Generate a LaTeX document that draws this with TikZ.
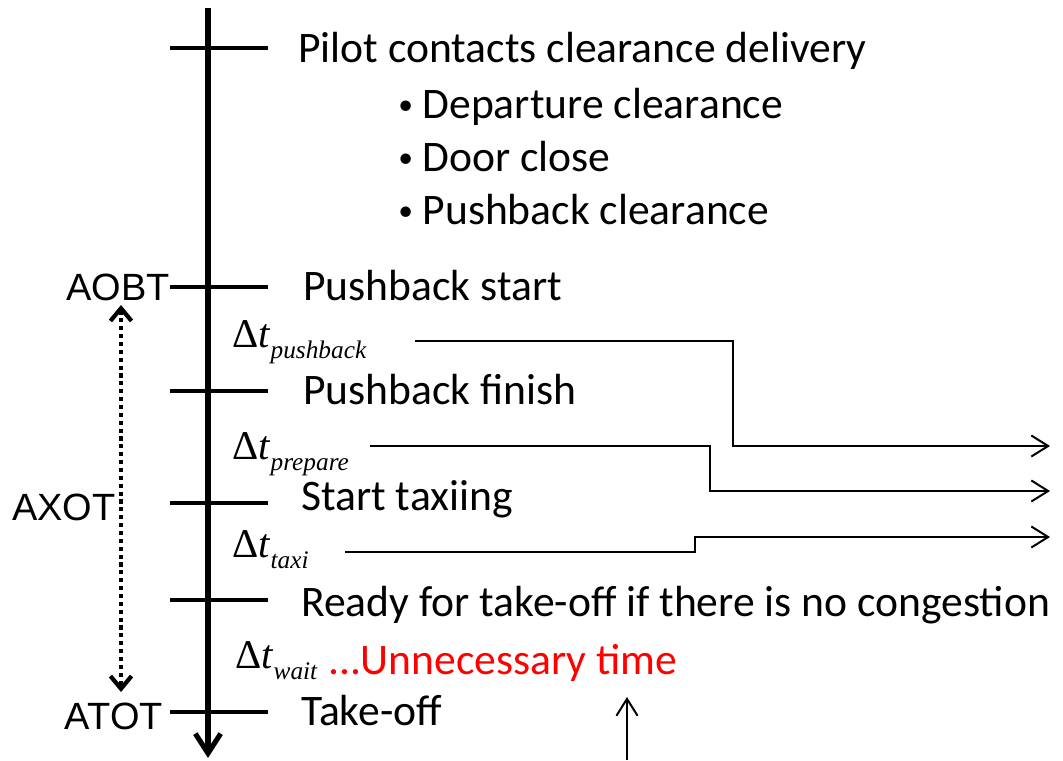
\documentclass[tikz,border=0pt]{standalone}
\usepackage{fontspec}
\setmainfont{Carlito}
\newfontfamily\arialfont{Liberation Sans}
\newfontfamily\timesfont{Liberation Serif}
\usetikzlibrary{arrows.meta}
\tikzset{>={Straight Barb[length=12pt,width=15pt]}}
\tikzset{
  event/.style={anchor=base west, inner sep=0pt, font=\fontsize{31}{36}\selectfont},
  timelabel/.style={inner sep=0pt, font=\arialfont\fontsize{27}{30}\selectfont},
  dlabel/.style={anchor=base west, inner sep=0pt},
  flow/.style={line width=1.4pt}
}
\newcommand{\dtime}[1]{{\timesfont\fontsize{29}{32}\selectfont
  Δ\textit{t}\raisebox{-8pt}{\fontsize{18}{20}\selectfont\itshape #1}}}
\newcommand{\bul}{\raisebox{3pt}{\fontsize{21}{21}\selectfont •}\hspace{0.22em}}

\begin{document}
\begin{tikzpicture}[x=0.025cm, y=-0.025cm]
    \useasboundingbox (0,0) rectangle (1063,761);
    % time axis and ticks
    \draw[line width=3.6pt, -{Straight Barb[length=14pt,width=18pt]}] (208,8) -- (208,758);
    \foreach \y in {48,287,391,503,600,712}
    \draw[line width=2.8pt] (170,\y) -- (268,\y);
    % events
    \node[event] (pilot) at (298,63) {Pilot contacts clearance delivery};
    \node[event] (dep) at (398,119) {\bul Departure clearance};
    \node[event] (door) at (398,172) {\bul Door close};
    \node[event] (pbclr) at (398,225) {\bul Pushback clearance};
    \node[event] (pbstart) at (303,300) {Pushback start};
    \node[event] (pbfin) at (303,404) {Pushback finish};
    \node[event] (taxi) at (301,510) {Start taxiing};
    \node[event] (ready) at (301,616) {Ready for take-off if there is no congestion};
    \node[event] (tkoff) at (301,725) {Take-off};
    % time stamps on the left
    \node[timelabel, anchor=base east] (aobt) at (170,300) {AOBT};
    \node[timelabel, anchor=base west] (axot) at (12,520) {AXOT};
    \node[timelabel, anchor=base east] (atot) at (163,729) {ATOT};
    \coordinate (xtop) at (121,305);
    \coordinate (xbot) at (121,692);
    \draw[line width=3pt, dash pattern=on 3pt off 2.6pt,
      {Straight Barb[length=9pt,width=15pt]}-{Straight Barb[length=9pt,width=15pt]}] (xtop) -- (xbot);
    % durations
    \node[dlabel] (dpush) at (232,347) {\dtime{pushback}};
    \node[dlabel] (dprep) at (232,459) {\dtime{prepare}};
    \node[dlabel] (dtaxi) at (232,557) {\dtime{taxi}};
    \node[dlabel] (dwait) at (235,668) {\dtime{wait}};
    \node[event, text=red] (waste) at (328,674) {...Unnecessary time};
    % flows to the right
    \coordinate (s1) at (415,341);
    \coordinate (s2) at (370,446);
    \coordinate (s3) at (345,552);
    \coordinate (e1) at (1050,446);
    \coordinate (e2) at (1050,491);
    \coordinate (e3) at (1050,537);
    \draw[flow, ->] (s1) -| (733,446) -- (e1);
    \draw[flow, ->] (s2) -| (710,491) -- (e2);
    \draw[flow, ->] (s3) -| (695,537) -- (e3);
    \coordinate (u0) at (627,760);
    \coordinate (u1) at (627,697);
    \draw[flow, ->] (u0) -- (u1);
\end{tikzpicture}
\end{document}
